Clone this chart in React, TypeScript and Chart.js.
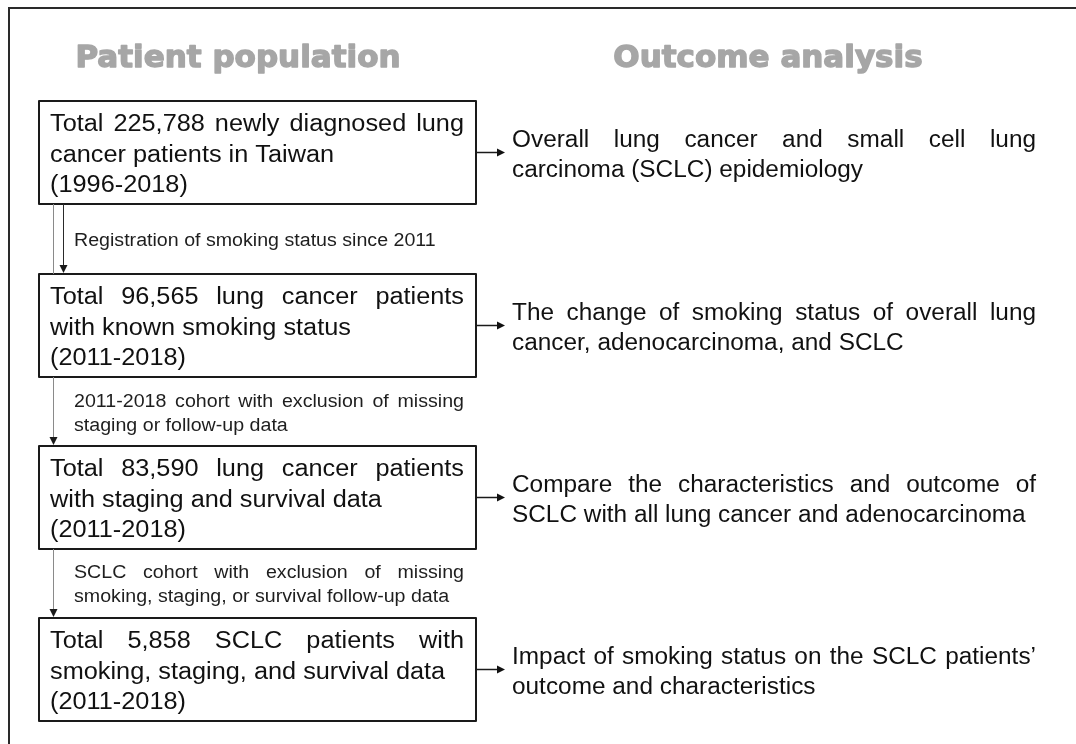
import React, { useEffect, useRef } from 'react';
import { Chart, registerables } from 'chart.js';

Chart.register(...registerables);

// ---------- content ----------
const panelTitles = ['Patient population', 'Outcome analysis'];

const cohortLines = [
  ['Total 225,788 newly diagnosed lung', 'cancer patients in Taiwan', '(1996-2018)'],
  ['Total 96,565 lung cancer patients', 'with known smoking status', '(2011-2018)'],
  ['Total 83,590 lung cancer patients', 'with staging and survival data', '(2011-2018)'],
  ['Total 5,858 SCLC patients with', 'smoking, staging, and survival data', '(2011-2018)'],
];
const cohortJustify = [
  [true, false, false],
  [true, false, false],
  [true, false, false],
  [true, false, false],
];

const stepLabels = [
  ['Registration of smoking status since 2011'],
  ['2011-2018 cohort with exclusion of missing', 'staging or follow-up data'],
  ['SCLC cohort with exclusion of missing', 'smoking, staging, or survival follow-up data'],
];
const stepJustify = [[false], [true, false], [true, false]];

const outcomeLines = [
  ['Overall lung cancer and small cell lung', 'carcinoma (SCLC) epidemiology'],
  ['The change of smoking status of overall lung', 'cancer, adenocarcinoma, and SCLC'],
  ['Compare the characteristics and outcome of', 'SCLC with all lung cancer and adenocarcinoma'],
  ['Impact of smoking status on the SCLC patients\u2019', 'outcome and characteristics'],
];
const outcomeJustify = [
  [true, false],
  [true, false],
  [true, false],
  [true, false],
];

// ---------- layout (scale units) ----------
const layout = {
  width: 1076,
  height: 744,
  frameX: 9,
  frameY: 8,
  titleY: 67,
  titleCenters: [238, 768],
  boxLeft: 39,
  boxRight: 476,
  boxTops: [101, 274, 446, 618],
  boxHeight: 103,
  boxTextLeft: 50,
  boxTextRight: 464,
  boxBaselines: [30, 61, 91],
  labelLeft: 74,
  labelRight: 464,
  labelBaselines: [[246], [407, 431], [578, 602]],
  connectorX: 53,
  firstArrowX: 63,
  arrowEnd: 505,
  outcomeLeft: 512,
  outcomeRight: 1036,
  outcomeOffsets: [-6, 24],
};

const BODY_FONT = '23px "Liberation Sans", Arial, sans-serif';
const OUTCOME_FONT = '23px "Liberation Sans", Arial, sans-serif';
const LABEL_FONT = '18px "Liberation Sans", Arial, sans-serif';
const TITLE_FONT = 'bold 31px "DejaVu Sans", sans-serif';
const BODY_HSCALE = 1.1;
const OUTCOME_HSCALE = 1.06;
const LABEL_HSCALE = 1.09;

function drawScaled(ctx: CanvasRenderingContext2D, text: string, x: number, y: number, hs: number) {
  ctx.save();
  ctx.translate(x, y);
  ctx.scale(hs, 1);
  ctx.fillText(text, 0, 0);
  ctx.restore();
}

function drawLine(
  ctx: CanvasRenderingContext2D,
  text: string,
  x: number,
  xRight: number,
  y: number,
  justify: boolean,
  hs: number
) {
  const words = text.split(' ');
  if (!justify || words.length < 2) {
    drawScaled(ctx, text, x, y, hs);
    return;
  }
  const widths = words.map((w) => ctx.measureText(w).width * hs);
  const total = widths.reduce((a, b) => a + b, 0);
  const gap = (xRight - x - total) / (words.length - 1);
  let cx = x;
  words.forEach((w, i) => {
    drawScaled(ctx, w, cx, y, hs);
    cx += widths[i] + gap;
  });
}

function arrowHead(ctx: CanvasRenderingContext2D, x: number, y: number, dir: 'down' | 'right') {
  ctx.beginPath();
  if (dir === 'down') {
    ctx.moveTo(x, y);
    ctx.lineTo(x - 4, y - 8);
    ctx.lineTo(x + 4, y - 8);
  } else {
    ctx.moveTo(x, y);
    ctx.lineTo(x - 8, y - 4);
    ctx.lineTo(x - 8, y + 4);
  }
  ctx.closePath();
  ctx.fill();
}

const flowPlugin = {
  id: 'flowchart',
  beforeDraw(chart: any) {
    const ctx = chart.ctx as CanvasRenderingContext2D;
    ctx.save();
    ctx.fillStyle = '#ffffff';
    ctx.fillRect(0, 0, chart.width, chart.height);
    ctx.restore();
  },
  afterDraw(chart: any) {
    const ctx = chart.ctx as CanvasRenderingContext2D;
    const sx = chart.scales.x;
    const sy = chart.scales.y;
    const X = (v: number) => sx.getPixelForValue(v);
    const Y = (v: number) => sy.getPixelForValue(v);
    const L = layout;

    ctx.save();
    ctx.textBaseline = 'alphabetic';

    // outer frame (top and left visible)
    ctx.strokeStyle = '#2a2a2a';
    ctx.lineWidth = 2;
    ctx.beginPath();
    ctx.moveTo(X(L.frameX), Y(L.height + 20));
    ctx.lineTo(X(L.frameX), Y(L.frameY));
    ctx.lineTo(X(L.width + 20), Y(L.frameY));
    ctx.stroke();

    // titles
    ctx.font = TITLE_FONT;
    ctx.fillStyle = '#a6a6a6';
    ctx.strokeStyle = '#a6a6a6';
    ctx.lineWidth = 1.4;
    ctx.lineJoin = 'round';
    ctx.textAlign = 'center';
    panelTitles.forEach((t, i) => {
      ctx.fillText(t, X(L.titleCenters[i]), Y(L.titleY));
      ctx.strokeText(t, X(L.titleCenters[i]), Y(L.titleY));
    });
    ctx.textAlign = 'left';

    // boxes
    cohortLines.forEach((lines, i) => {
      const top = L.boxTops[i];
      ctx.strokeStyle = '#1a1a1a';
      ctx.lineWidth = 2;
      ctx.strokeRect(X(L.boxLeft), Y(top), X(L.boxRight) - X(L.boxLeft), Y(top + L.boxHeight) - Y(top));
      ctx.font = BODY_FONT;
      ctx.fillStyle = '#111111';
      lines.forEach((line, j) => {
        drawLine(ctx, line, X(L.boxTextLeft), X(L.boxTextRight), Y(top + L.boxBaselines[j]), cohortJustify[i][j], BODY_HSCALE);
      });

      // right arrows
      const mid = top + L.boxHeight / 2;
      ctx.lineWidth = 1.5;
      ctx.beginPath();
      ctx.moveTo(X(L.boxRight), Y(mid));
      ctx.lineTo(X(L.arrowEnd - 4), Y(mid));
      ctx.stroke();
      ctx.fillStyle = '#111111';
      arrowHead(ctx, X(L.arrowEnd), Y(mid), 'right');

      // outcome text
      ctx.font = OUTCOME_FONT;
      outcomeLines[i].forEach((line, j) => {
        drawLine(ctx, line, X(L.outcomeLeft), X(L.outcomeRight), Y(mid + L.outcomeOffsets[j]), outcomeJustify[i][j], OUTCOME_HSCALE);
      });
    });

    // vertical connectors
    for (let i = 0; i < 3; i++) {
      const from = L.boxTops[i] + L.boxHeight;
      const to = L.boxTops[i + 1];
      ctx.lineWidth = 1;
      ctx.strokeStyle = '#8a8a8a';
      ctx.beginPath();
      ctx.moveTo(X(L.connectorX) + 0.5, Y(from));
      ctx.lineTo(X(L.connectorX) + 0.5, Y(to - (i === 0 ? 0 : 6)));
      ctx.stroke();
      ctx.fillStyle = '#1a1a1a';
      if (i === 0) {
        ctx.strokeStyle = '#2a2a2a';
        ctx.beginPath();
        ctx.moveTo(X(L.firstArrowX) + 0.5, Y(from));
        ctx.lineTo(X(L.firstArrowX) + 0.5, Y(to - 6));
        ctx.stroke();
        arrowHead(ctx, X(L.firstArrowX) + 0.5, Y(to - 1), 'down');
      } else {
        arrowHead(ctx, X(L.connectorX) + 0.5, Y(to - 1), 'down');
      }

      // labels
      ctx.font = LABEL_FONT;
      ctx.fillStyle = '#1e1e1e';
      stepLabels[i].forEach((line, j) => {
        drawLine(ctx, line, X(L.labelLeft), X(L.labelRight), Y(L.labelBaselines[i][j]), stepJustify[i][j], LABEL_HSCALE);
      });
    }

    ctx.restore();
  },
};

export default function App() {
  const canvasRef = useRef<HTMLCanvasElement | null>(null);

  useEffect(() => {
    if (!canvasRef.current) return;
    const chart = new Chart(canvasRef.current, {
      type: 'scatter',
      data: { datasets: [{ data: [], pointRadius: 0 }] },
      options: {
        animation: false,
        responsive: false,
        devicePixelRatio: 1,
        layout: { padding: 0 },
        plugins: { legend: { display: false }, tooltip: { enabled: false }, title: { display: false } },
        scales: {
          x: { type: 'linear', min: 0, max: layout.width, display: false },
          y: { type: 'linear', min: 0, max: layout.height, reverse: true, display: false },
        },
      },
      plugins: [flowPlugin],
    });
    return () => chart.destroy();
  }, []);

  return (
    <div style={{ position: 'fixed', left: 0, top: 0, width: layout.width, height: layout.height, background: '#fff' }}>
      <canvas ref={canvasRef} width={layout.width} height={layout.height} style={{ display: 'block' }} />
    </div>
  );
}
